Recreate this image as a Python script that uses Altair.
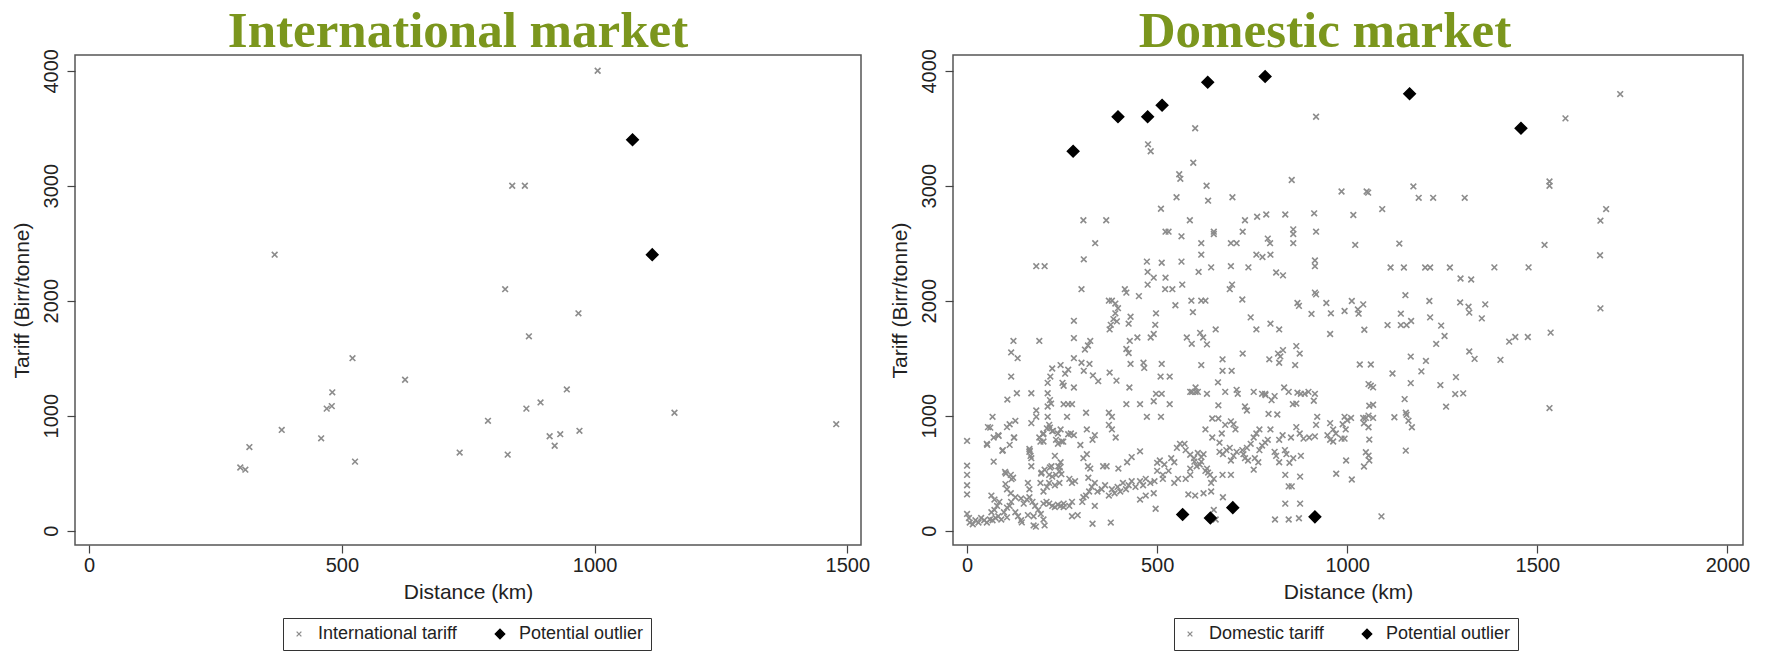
import altair as alt
import pandas as pd

# ---------------- International market ----------------
intl_km = [1006, 837, 862, 367, 823, 968, 870, 521, 625, 481, 945, 470, 480, 893, 865,
           1158, 1478, 789, 381, 970, 459, 911, 932, 317, 921, 733, 828, 526, 299, 309]
intl_tariff = [4000, 3000, 3000, 2400, 2100, 1890, 1690, 1500, 1312, 1203, 1228, 1061, 1083, 1115, 1061,
               1025, 926, 955, 876, 868, 803, 821, 839, 727, 738, 679, 661, 600, 549, 530]
intl_out_km = [1075, 1114]
intl_out_tariff = [3400, 2400]

# ---------------- Domestic market ----------------
dom_out_km = [279, 397, 475, 513, 633, 784, 1164, 1457, 567, 640, 699, 915]
dom_out_tariff = [3300, 3600, 3600, 3700, 3900, 3950, 3800, 3500, 140, 110, 200, 120]

dom_pts = [
    # upper scatter (< 1005 km)
    (918, 3600), (600, 3500), (476, 3360), (483, 3300), (595, 3200), (558, 3100), (561, 3060),
    (630, 3000), (634, 2870), (698, 2900), (551, 2900), (854, 3050), (985, 2950), (913, 2760),
    (837, 2750), (787, 2750), (763, 2730), (731, 2700), (586, 2700), (510, 2800), (366, 2700),
    (306, 2700), (337, 2500), (522, 2600), (530, 2600), (649, 2600), (649, 2580), (725, 2600),
    (918, 2600), (858, 2620), (858, 2580), (858, 2500), (791, 2540), (797, 2500), (694, 2500),
    (709, 2500), (616, 2500), (564, 2560), (798, 2400), (777, 2380), (761, 2400), (616, 2400),
    (564, 2340), (473, 2340), (512, 2330), (307, 2360), (182, 2300), (204, 2300), (642, 2290),
    (609, 2250), (694, 2300), (740, 2290), (915, 2350), (915, 2300), (475, 2250), (475, 2140),
    (491, 2200), (522, 2200), (540, 2100), (521, 2100), (566, 2140), (301, 2100), (415, 2100),
    (419, 2070), (452, 2040), (697, 2140), (691, 2100), (724, 2010), (813, 2245), (831, 2220),
    (616, 2000), (627, 2000), (590, 2000), (548, 1960), (594, 1900), (373, 2000), (381, 2000),
    (390, 1975), (397, 1935), (390, 1890), (378, 1790), (375, 1750), (385, 1840), (394, 1820),
    (430, 1860), (425, 1800), (497, 1890), (495, 1790), (491, 1710), (483, 1680), (448, 1680),
    (428, 1650), (419, 1580), (425, 1545), (464, 1460), (466, 1415), (430, 1450), (512, 1450),
    (533, 1340), (509, 1340), (427, 1245), (393, 1305), (375, 1375), (331, 1350), (322, 1450),
    (345, 1300), (281, 1825), (281, 1675), (324, 1650), (310, 1575), (318, 1610), (301, 1460),
    (307, 1390), (281, 1500), (266, 1400), (258, 1365), (246, 1440), (224, 1410), (219, 1340),
    (212, 1285), (251, 1285), (254, 1260), (281, 1245), (190, 1650), (122, 1650), (133, 1500),
    (116, 1550), (116, 1340), (131, 1195), (169, 1195), (106, 1140), (182, 1045), (182, 990),
    (212, 1195), (218, 1135), (221, 1105), (212, 1080), (212, 990), (254, 1100), (266, 1100),
    (276, 1100), (263, 990), (313, 1025), (315, 880), (330, 790), (336, 830), (373, 1025),
    (381, 990), (373, 920), (381, 880), (391, 810), (419, 1100), (455, 1100), (473, 990),
    (510, 990), (491, 1125), (497, 1190), (512, 1190), (533, 1100), (587, 1207), (592, 1207),
    (601, 1207), (607, 1207), (601, 1245), (616, 1440), (631, 1190), (660, 1290), (672, 1390),
    (696, 1390), (679, 1207), (709, 1225), (712, 1190), (672, 1490), (661, 1090), (725, 1540),
    (746, 1855), (761, 1750), (654, 1750), (613, 1720), (621, 1680), (578, 1680), (591, 1625),
    (631, 1620), (645, 975), (731, 1080), (736, 1045), (754, 1207), (776, 1190), (785, 1180),
    (798, 1800), (821, 1750), (795, 1490), (818, 1540), (831, 1570), (824, 1515), (866, 1605),
    (875, 1540), (863, 1440), (821, 1460), (869, 1980), (873, 1955), (915, 2070), (918, 2055),
    (906, 1885), (945, 1980), (957, 1890), (955, 1710), (993, 1910),
    # middle / lower band
    (993, 990), (1000, 960), (988, 925), (996, 880), (955, 935), (963, 880), (970, 845),
    (985, 800), (993, 800), (948, 830), (955, 790), (963, 775), (915, 820), (900, 810),
    (921, 990), (918, 920), (912, 1130), (915, 1190), (898, 1207), (888, 1190), (869, 1200),
    (878, 1190), (857, 1100), (866, 1105), (816, 1010), (834, 1245), (846, 1207), (809, 1170),
    (801, 1135), (784, 1190), (793, 1015), (875, 845), (885, 800), (866, 900), (852, 810),
    (830, 830), (821, 790), (798, 880), (809, 685), (813, 650), (821, 595), (836, 700),
    (840, 665), (858, 630), (848, 590), (878, 650), (837, 485), (846, 385), (854, 385),
    (876, 470), (837, 235), (876, 235), (810, 97), (846, 97), (873, 108), (971, 495), (997, 610),
    (791, 790), (784, 765), (776, 740), (769, 700), (754, 810), (761, 845), (769, 880),
    (746, 755), (736, 720), (724, 700), (727, 665), (731, 630), (709, 685), (701, 650),
    (694, 610), (754, 530), (757, 630), (766, 595), (739, 610), (682, 700), (691, 720),
    (673, 665), (664, 685), (670, 845), (679, 920), (694, 950), (701, 925), (706, 880),
    (664, 765), (661, 975), (645, 810), (627, 880), (672, 485), (694, 485), (673, 290),
    (639, 485), (642, 415), (649, 450), (631, 540), (616, 600), (616, 640), (607, 675),
    (622, 665), (597, 630), (587, 660), (604, 560), (612, 575), (627, 520), (634, 505),
    (587, 540), (598, 600), (575, 700), (572, 755), (560, 755), (552, 720), (537, 630),
    (545, 595), (530, 520), (519, 575), (507, 610), (500, 590), (642, 340), (622, 325),
    (600, 305), (582, 315), (649, 180), (654, 97), (587, 485), (575, 450), (545, 415),
    (555, 450), (515, 485), (515, 450), (500, 520), (482, 415), (493, 430), (470, 450),
    (463, 395), (455, 430), (443, 380), (433, 430), (425, 395), (418, 360), (410, 415),
    (403, 340), (396, 380), (388, 325), (381, 360), (373, 305), (363, 395), (354, 360),
    (343, 340), (336, 415), (328, 380), (321, 340), (313, 305), (306, 290), (303, 250),
    (336, 215), (324, 540), (318, 560), (315, 665), (306, 630), (358, 560), (367, 560),
    (398, 540), (421, 595), (433, 640), (455, 690), (491, 325), (496, 190), (455, 270),
    (470, 305), (330, 60), (378, 70), (319, 460),
    # low-left cluster
    (0, 780), (0, 565), (0, 485), (0, 395), (0, 315), (0, 145), (5, 110), (7, 70), (15, 55),
    (22, 90), (30, 70), (37, 110), (45, 90), (52, 70), (60, 97), (67, 90), (75, 110), (82, 125),
    (90, 97), (64, 160), (72, 180), (79, 215), (85, 250), (97, 160), (105, 200), (112, 215),
    (116, 250), (127, 160), (134, 125), (142, 90), (149, 235), (157, 270), (164, 290),
    (172, 250), (179, 215), (187, 180), (194, 145), (201, 235), (209, 250), (216, 235),
    (224, 215), (231, 205), (239, 225), (246, 215), (254, 235), (269, 215), (276, 250),
    (127, 290), (142, 280), (164, 360), (160, 415), (105, 360), (115, 325), (64, 305),
    (72, 270), (201, 340), (210, 380), (216, 415), (224, 470), (234, 485), (243, 520),
    (246, 595), (240, 560), (196, 505), (204, 530), (169, 560), (169, 630), (164, 685),
    (164, 710), (124, 810), (94, 700), (70, 600), (115, 485), (121, 460), (100, 510),
    (160, 135), (175, 125), (175, 45), (204, 45), (201, 97), (254, 205), (291, 135),
    (276, 125), (55, 900), (67, 990), (82, 830), (70, 810), (52, 755), (112, 925), (105, 900),
    (127, 955), (169, 935), (210, 890), (216, 920), (201, 845), (190, 810), (201, 775),
    (224, 865), (239, 845), (246, 880), (234, 790), (239, 755), (249, 775), (273, 845),
    (281, 830), (298, 745), (216, 485), (222, 560), (231, 395), (243, 415), (193, 415),
    (276, 415), (284, 430), (269, 450), (61, 896), (83, 824), (123, 809), (112, 746),
    (53, 746), (93, 694), (102, 497), (117, 448), (101, 405), (165, 694), (167, 650),
    (193, 774), (200, 838), (218, 896), (226, 867), (253, 774), (266, 838), (231, 650),
    (195, 497), (218, 549), (244, 549), (248, 491), (105, 115), (144, 72), (181, 35),
    # right part (>= 1005 km)
    (1718, 3797), (1574, 3586), (1532, 3037), (1532, 3000), (1051, 2950), (1055, 2940),
    (1174, 2994), (1188, 2895), (1226, 2895), (1309, 2895), (1092, 2797), (1016, 2745),
    (1681, 2797), (1666, 2696), (1021, 2485), (1137, 2497), (1519, 2485), (1665, 2395),
    (1114, 2289), (1149, 2289), (1205, 2289), (1218, 2289), (1270, 2289), (1387, 2290),
    (1477, 2290), (1298, 2193), (1326, 2184), (1153, 2048), (1012, 1997), (1042, 1968),
    (1028, 1924), (1030, 1887), (1216, 1997), (1297, 1985), (1319, 1948), (1321, 1896),
    (1363, 1968), (1141, 1887), (1218, 1855), (1354, 1846), (1106, 1788), (1141, 1788),
    (1156, 1788), (1168, 1823), (1045, 1747), (1247, 1783), (1256, 1693), (1234, 1624),
    (1426, 1644), (1442, 1684), (1475, 1684), (1535, 1722), (1666, 1933), (1167, 1514),
    (1207, 1476), (1321, 1558), (1335, 1494), (1403, 1485), (1033, 1445), (1062, 1445),
    (1119, 1367), (1195, 1385), (1167, 1283), (1245, 1266), (1286, 1335), (1284, 1188),
    (1305, 1194), (1260, 1078), (1056, 1274), (1062, 1260), (1068, 1246), (1058, 1086),
    (1068, 1095), (1151, 1144), (1154, 1026), (1156, 1008), (1124, 986), (1161, 956),
    (1170, 899), (1532, 1066), (1010, 980), (1042, 980), (1049, 980), (1056, 1000),
    (1068, 980), (1044, 934), (1056, 899), (1058, 792), (1049, 682), (1056, 653),
    (1058, 610), (1044, 558), (1154, 696), (1012, 445), (1090, 124),
]
dom_km = [p[0] for p in dom_pts]
dom_tariff = [p[1] for p in dom_pts]

x_ticks_intl = [0, 500, 1000, 1500]
x_ticks_dom = [0, 500, 1000, 1500, 2000]
y_ticks = [0, 1000, 2000, 3000, 4000]

XPATH = "M-0.5,-0.5L0.5,0.5M-0.5,0.5L0.5,-0.5"
TITLE_COLOR = "#7B961D"
FONT = "Liberation Sans"
PLOT_H = 490


def make_df(km, tariff, okm, otariff, lab):
    a = pd.DataFrame({"km": km, "tariff": tariff, "kind": lab})
    b = pd.DataFrame({"km": okm, "tariff": otariff, "kind": "Potential outlier"})
    return pd.concat([a, b], ignore_index=True)


def panel(df, labels, xdom, xticks, width, title, tdx, lx):
    leg = alt.Legend(
        title=None, orient="none", legendX=lx, legendY=563, direction="horizontal",
        strokeColor="#333333", fillColor="white", padding=7, labelFontSize=18,
        labelFont=FONT, labelColor="#222222", columnPadding=34, labelOffset=10,
        symbolSize=90, symbolStrokeWidth=1.3,
    )
    pts = alt.Chart(df).mark_point(size=130, strokeWidth=1.6, opacity=1).encode(
        x=alt.X("km:Q", scale=alt.Scale(domain=xdom, nice=False, zero=False),
                axis=alt.Axis(values=xticks, format="d", title="Distance (km)",
                              labelPadding=2, titlePadding=6)),
        y=alt.Y("tariff:Q", scale=alt.Scale(domain=[-125, 4137], nice=False, zero=False),
                axis=alt.Axis(values=y_ticks, format="d", title="Tariff (Birr/tonne)", labelAngle=270,
                              labelAlign="center", labelBaseline="alphabetic", labelPadding=10,
                              titlePadding=9)),
        shape=alt.Shape("kind:N", scale=alt.Scale(domain=labels, range=[XPATH, "diamond"]), legend=leg),
        stroke=alt.Stroke("kind:N", scale=alt.Scale(domain=labels, range=["#8c8c8c", "#000000"]), legend=leg),
        fill=alt.Fill("kind:N", scale=alt.Scale(domain=labels, range=["transparent", "#000000"]), legend=leg),
    )
    ttl = alt.Chart(pd.DataFrame({"t": [title]})).mark_text(
        font="Liberation Serif", fontSize=51, fontWeight="bold", color=TITLE_COLOR,
        align="center", baseline="alphabetic",
    ).encode(text="t:N", x=alt.value(width / 2 + tdx), y=alt.value(-8))
    return alt.layer(pts, ttl).properties(width=width, height=PLOT_H)


df_i = make_df(intl_km, intl_tariff, intl_out_km, intl_out_tariff, "International tariff")
df_d = make_df(dom_km, dom_tariff, dom_out_km, dom_out_tariff, "Domestic tariff")

left = panel(df_i, ["International tariff", "Potential outlier"], [-28, 1527], x_ticks_intl,
             786, "International market", -10, 208)
right = panel(df_d, ["Domestic tariff", "Potential outlier"], [-37, 2041], x_ticks_dom,
              790, "Domestic market", -23, 221)

chart = alt.hconcat(left, right, spacing=92, bounds="flush").resolve_scale(
    shape="independent", stroke="independent", fill="independent", x="independent", y="independent"
).resolve_legend(shape="independent", stroke="independent", fill="independent").configure_view(
    stroke="#555555", strokeWidth=1.5
).configure_axis(
    domain=False, grid=False, tickSize=8, tickColor="#444444", tickWidth=1.2,
    labelFont=FONT, labelFontSize=20, labelColor="#222222",
    titleFont=FONT, titleFontSize=21, titleFontWeight="normal", titleColor="#222222",
).properties(
    padding={"left": 10, "top": 5, "right": 0, "bottom": 0},
    background="white",
)

chart.save("out.html", embed_options={"renderer": "svg", "actions": False})
